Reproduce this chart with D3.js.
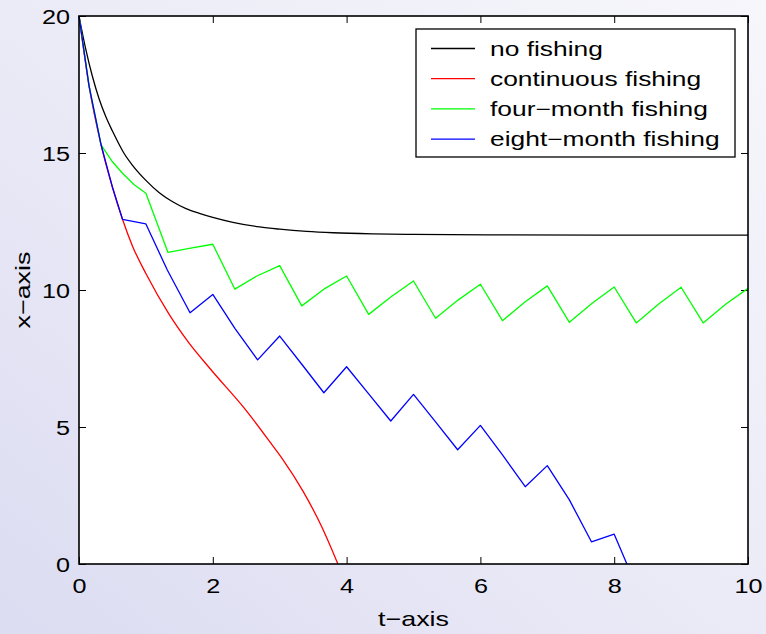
<!DOCTYPE html>
<html>
<head>
<meta charset="utf-8">
<script src="https://cdn.jsdelivr.net/npm/d3@7"></script>
<style>
  html, body { margin: 0; padding: 0; }
  body { width: 766px; height: 634px; overflow: hidden; }
  text { font-family: "Liberation Sans", Arial, Helvetica, sans-serif; }
</style>
</head>
<body>
<svg id="chart" width="766" height="634"></svg>
<script>
// ---- data ----
const seriesNames = ["no fishing", "continuous fishing", "four\u2212month fishing", "eight\u2212month fishing"];
const seriesColors = ["#000000", "#ff0000", "#00ff00", "#0000ff"];

const noFishingT = [0, 0.1, 0.2, 0.3, 0.4, 0.5, 0.67, 0.8, 1.0, 1.2, 1.4, 1.6, 1.8, 2.0, 2.3, 2.7, 3.0, 3.4, 3.8, 4.4, 5.0, 6.3, 8.0, 10.0];
const noFishingX = [20, 18.8, 17.8, 16.98, 16.33, 15.8, 15.0, 14.55, 14.0, 13.55, 13.22, 12.97, 12.8, 12.65, 12.47, 12.3, 12.22, 12.14, 12.09, 12.05, 12.03, 12.01, 12.0, 12.0];

const contT = [0, 0.15, 0.33, 0.5, 0.65, 0.8, 1.0, 1.35, 1.64, 1.97, 2.5, 2.9, 3.05, 3.35, 3.63, 3.87];
const contX = [20, 17.45, 15.3, 13.75, 12.58, 11.6, 10.6, 9.1, 8.08, 7.1, 5.6, 4.3, 3.8, 2.65, 1.35, 0];

const fourT = [0, 0.15, 0.33, 0.5, 0.65, 0.82, 1.0, 1.33, 1.65, 2.0, 2.33, 2.66, 3.0, 3.33, 3.66, 4.0, 4.33, 4.67, 5.0, 5.33, 5.67, 6.0, 6.33, 6.67, 7.0, 7.33, 7.67, 8.0, 8.33, 8.67, 9.0, 9.33, 9.67, 10.0];
const fourX = [20, 17.45, 15.3, 14.68, 14.26, 13.85, 13.53, 11.37, 11.52, 11.67, 10.03, 10.51, 10.89, 9.42, 10.03, 10.51, 9.11, 9.76, 10.33, 8.97, 9.64, 10.21, 8.88, 9.57, 10.15, 8.82, 9.52, 10.11, 8.80, 9.5, 10.1, 8.80, 9.49, 10.06];

const eightT = [0, 0.15, 0.33, 0.5, 0.65, 1.0, 1.32, 1.66, 2.0, 2.33, 2.67, 3.0, 3.33, 3.66, 4.0, 4.33, 4.66, 5.0, 5.33, 5.66, 6.0, 6.33, 6.67, 7.0, 7.33, 7.66, 8.0, 8.19];
const eightX = [20, 17.45, 15.3, 13.75, 12.58, 12.41, 10.73, 9.17, 9.84, 8.6, 7.45, 8.32, 7.29, 6.25, 7.2, 6.21, 5.22, 6.19, 5.19, 4.17, 5.06, 3.98, 2.82, 3.59, 2.34, 0.81, 1.09, 0];

const xTicks = [0, 2, 4, 6, 8, 10];
const yTicks = [0, 5, 10, 15, 20];
const xLabel = "t\u2212axis";
const yLabel = "x\u2212axis";

// ---- chart ----
const W = 766, H = 634;
const m = { left: 79, right: 748, top: 16, bottom: 564 };
const svg = d3.select("#chart");

const defs = svg.append("defs");
const grad = defs.append("linearGradient").attr("id", "bg")
  .attr("x1", "0%").attr("y1", "100%").attr("x2", "100%").attr("y2", "0%");
grad.append("stop").attr("offset", "0%").attr("stop-color", "#dcdcf2");
grad.append("stop").attr("offset", "50%").attr("stop-color", "#ebebf7");
grad.append("stop").attr("offset", "100%").attr("stop-color", "#f6f6fb");
svg.append("rect").attr("width", W).attr("height", H).attr("fill", "url(#bg)");

const x = d3.scaleLinear().domain([0, 10]).range([m.left, m.right]);
const y = d3.scaleLinear().domain([0, 20]).range([m.bottom, m.top]);

svg.append("rect").attr("x", m.left).attr("y", m.top)
  .attr("width", m.right - m.left).attr("height", m.bottom - m.top)
  .attr("fill", "#ffffff");

const tickLen = 7;
const gx = svg.append("g").attr("transform", `translate(0,${m.bottom})`)
  .call(d3.axisBottom(x).tickValues(xTicks).tickSizeInner(-tickLen).tickSizeOuter(0).tickPadding(14));
const gxTop = svg.append("g").attr("transform", `translate(0,${m.top})`)
  .call(d3.axisTop(x).tickValues(xTicks).tickSizeInner(-tickLen).tickSizeOuter(0).tickFormat(""));
const gy = svg.append("g").attr("transform", `translate(${m.left},0)`)
  .call(d3.axisLeft(y).tickValues(yTicks).tickSizeInner(-tickLen).tickSizeOuter(0).tickPadding(9));
const gyR = svg.append("g").attr("transform", `translate(${m.right},0)`)
  .call(d3.axisRight(y).tickValues(yTicks).tickSizeInner(-tickLen).tickSizeOuter(0).tickFormat(""));

const TS = 1.2; // horizontal stretch of the original's glyphs
[gx, gxTop, gy, gyR].forEach(g => {
  g.select(".domain").remove();
  g.selectAll(".tick line").attr("stroke", "#000").attr("stroke-width", 1);
  g.selectAll(".tick text").attr("font-size", 21).attr("fill", "#000")
    .style("font-family", "'Liberation Sans', Arial, sans-serif")
    .each(function () {
      const t = d3.select(this);
      const xv = +t.attr("x") || 0;
      t.attr("x", xv / TS).attr("transform", `scale(${TS},1)`);
    });
});
gx.selectAll(".tick text").attr("dy", "0.71em");
gy.selectAll(".tick text").attr("dy", "0.36em");

// series lines
const lineLinear = d3.line().x(d => x(d[0])).y(d => y(d[1]));
const lineSmooth = d3.line().x(d => x(d[0])).y(d => y(d[1])).curve(d3.curveMonotoneX);

const series = [
  { t: noFishingT, v: noFishingX, smooth: true },
  { t: contT, v: contX, smooth: true },
  { t: fourT, v: fourX, smooth: false },
  { t: eightT, v: eightX, smooth: false }
];
series.forEach((s, i) => {
  const pts = s.t.map((t, j) => [t, s.v[j]]);
  svg.append("path").attr("d", (s.smooth ? lineSmooth : lineLinear)(pts))
    .attr("fill", "none").attr("stroke", seriesColors[i]).attr("stroke-width", 1.3)
    .attr("stroke-linejoin", "round");
});

// frame
svg.append("rect").attr("x", m.left).attr("y", m.top)
  .attr("width", m.right - m.left).attr("height", m.bottom - m.top)
  .attr("fill", "none").attr("stroke", "#000").attr("stroke-width", 1.6);

// axis labels
const LS = 1.28;
svg.append("text").attr("transform", `translate(${(m.left + m.right) / 2},626) scale(${LS},1)`)
  .attr("text-anchor", "middle").attr("font-size", 21).text(xLabel);
svg.append("text").attr("transform", `translate(30,${(m.top + m.bottom) / 2}) rotate(-90) scale(${LS},1)`)
  .attr("text-anchor", "middle").attr("font-size", 21).text(yLabel);

// legend
const GS = 1.32;
const lg = svg.append("g");
lg.append("rect").attr("x", 416).attr("y", 29).attr("width", 319).attr("height", 128)
  .attr("fill", "#fff").attr("stroke", "#000").attr("stroke-width", 1.3);
seriesNames.forEach((name, i) => {
  const cy = 48.5 + i * 30.2;
  lg.append("line").attr("x1", 431).attr("x2", 475).attr("y1", cy).attr("y2", cy)
    .attr("stroke", seriesColors[i]).attr("stroke-width", 1.3);
  lg.append("text").attr("transform", `translate(490,${cy}) scale(${GS},1)`).attr("dy", "0.36em")
    .attr("font-size", 20).text(name);
});
</script>
</body>
</html>
